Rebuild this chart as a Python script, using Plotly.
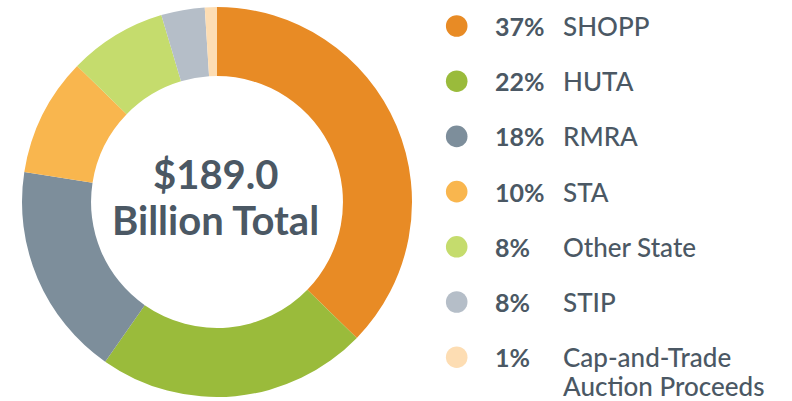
import plotly.graph_objects as go

W, H = 792, 401

categories = ["SHOPP", "HUTA", "RMRA", "STA", "Other State", "STIP", "Cap-and-Trade Auction Proceeds"]
legend_lines = [["SHOPP"], ["HUTA"], ["RMRA"], ["STA"], ["Other State"], ["STIP"], ["Cap-and-Trade", "Auction Proceeds"]]
pct_labels = ["37%", "22%", "18%", "10%", "8%", "8%", "1%"]
values = [37.2, 22.4, 17.7, 9.8, 8.1, 3.6, 1.0]
colors = ["#E88B25", "#9ABB3B", "#7D8E9B", "#F9B64E", "#C5DC6D", "#B5BEC8", "#FDDDB3"]
center_lines = ["$189.0", "Billion Total"]

TEXT = "#4B5864"
FONT = "Lato"

def px(x):
    return x / W

def py(y):
    return 1 - y / H

fig = go.Figure(go.Pie(
    labels=categories, values=values, sort=False, direction="clockwise",
    rotation=0, hole=0.646, textinfo="none", hoverinfo="label+percent",
    marker=dict(colors=colors, line=dict(width=0)),
    domain=dict(x=[px(22), px(412)], y=[py(397), py(7)]),
    showlegend=False,
))

annotations = []
shapes = []
# center text
for txt, yc in zip(center_lines, [174, 220]):
    annotations.append(dict(x=px(216), y=py(yc), xref="paper", yref="paper", text=f"<b>{txt}</b>",
                            showarrow=False, xanchor="center", yanchor="middle",
                            font=dict(family=FONT, size=40, color=TEXT)))

row_y0, row_step = 26, 55.2
cx, r = 456.7, 10.8
for i, (lines, pct, col) in enumerate(zip(legend_lines, pct_labels, colors)):
    yc = row_y0 + i * row_step
    shapes.append(dict(type="circle", xref="paper", yref="paper",
                       x0=px(cx - r), x1=px(cx + r), y0=py(yc + r), y1=py(yc - r),
                       fillcolor=col, line=dict(width=0)))
    annotations.append(dict(x=px(493), y=py(yc), xref="paper", yref="paper", text=f"<b>{pct}</b>",
                            showarrow=False, xanchor="left", yanchor="middle",
                            font=dict(family=FONT, size=25, color=TEXT)))
    for j, ln in enumerate(lines):
        annotations.append(dict(x=px(562), y=py(yc + j * 28.5), xref="paper", yref="paper", text=ln,
                                showarrow=False, xanchor="left", yanchor="middle", borderpad=0,
                                font=dict(family=FONT, size=26, color=TEXT, weight=500)))

fig.update_layout(width=W, height=H, margin=dict(l=0, r=0, t=0, b=0),
                  paper_bgcolor="white", plot_bgcolor="white",
                  annotations=annotations, shapes=shapes)

fig.write_html("out.html", config={"displayModeBar": False},
               post_script="document.body.style.margin='0';document.body.style.overflow='hidden';")
